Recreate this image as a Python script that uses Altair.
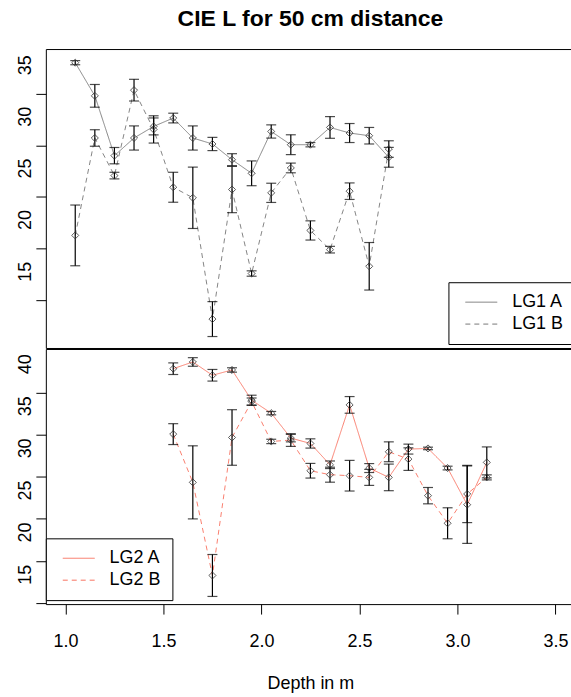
import altair as alt
import pandas as pd

FONT = "Liberation Sans"

# depth positions (m)
depth = [1.05, 1.15, 1.25, 1.35, 1.45, 1.55, 1.65, 1.75, 1.85, 1.95, 2.05,
         2.15, 2.25, 2.35, 2.45, 2.55, 2.65, 2.75, 2.85, 2.95, 3.05, 3.15]

# LG1 (top panel), depths 1.05 .. 2.65
lg1a_mean = [37.99, 34.78, 28.99, 30.70, 31.82, 32.63, 30.70, 30.12, 28.60,
             27.28, 31.33, 30.05, 30.05, 31.72, 31.18, 30.92, 28.83]
lg1a_err = [0.20, 1.10, 0.79, 1.17, 0.82, 0.47, 1.17, 0.64, 0.58,
            1.20, 0.64, 0.96, 0.21, 1.05, 0.92, 0.80, 0.96]
lg1b_mean = [21.27, 30.70, 27.06, 35.33, 31.53, 25.93, 24.91, 13.17, 25.71,
             17.58, 25.39, 27.80, 21.75, 19.89, 25.55, 18.28, 29.63]
lg1b_err = [2.94, 0.80, 0.32, 1.05, 1.32, 1.45, 2.97, 1.69, 2.24,
            0.26, 0.93, 0.47, 0.93, 0.32, 0.80, 2.30, 0.80]

# LG2 (bottom panel), depths 1.55 .. 3.15
lg2a_mean = [42.84, 43.64, 42.06, 42.69, 39.10, 37.56, 34.60, 33.96, 31.43,
             38.54, 31.04, 29.93, 33.29, 33.37, 31.04, 26.69, 31.71]
lg2a_err = [0.69, 0.51, 0.69, 0.26, 0.59, 0.20, 0.45, 0.55, 0.45,
            0.99, 0.53, 1.58, 0.59, 0.15, 0.22, 4.60, 1.84]
lg2b_mean = [35.07, 29.34, 18.28, 34.67, 38.93, 34.20, 34.36, 30.72, 30.25,
             30.13, 29.93, 32.97, 32.10, 27.76, 24.48, 27.96, 29.93]
lg2b_err = [1.24, 4.34, 2.49, 3.30, 0.43, 0.26, 0.75, 0.87, 0.89,
            1.82, 0.95, 1.18, 1.34, 0.97, 1.84, 3.40, 0.30]

x_ticks = [1.0, 1.5, 2.0, 2.5, 3.0, 3.5]
top_y_ticks = [15, 20, 25, 30, 35]
bot_y_ticks = [15, 20, 25, 30, 35, 40]


def table(xs, series_pairs):
    rows = []
    for name, means, errs in series_pairs:
        for x, m, e in zip(xs, means, errs):
            rows.append({"depth": x, "series": name, "value": m,
                         "lo": m - e, "hi": m + e})
    return pd.DataFrame(rows)


top_df = table(depth[:17], [("LG1 A", lg1a_mean, lg1a_err),
                            ("LG1 B", lg1b_mean, lg1b_err)])
bot_df = table(depth[5:], [("LG2 A", lg2a_mean, lg2a_err),
                           ("LG2 B", lg2b_mean, lg2b_err)])

X_SCALE = alt.Scale(domain=[0.9, 3.6], nice=False, zero=False)


def y_axis(values):
    return alt.Axis(values=values, title=None, domain=False, ticks=True,
                    tickSize=10, tickColor="black", tickWidth=1,
                    labelFont=FONT, labelFontSize=18, labelColor="black",
                    labelAngle=-90, labelAlign="center", labelBaseline="bottom",
                    labelPadding=1, labelOffset=-29, labelFlush=False,
                    labelOverlap=False, grid=False)


def panel(df, names, color, y_domain, y_values, height, legend_x, legend_y, x_axis):
    ysc = alt.Scale(domain=y_domain, nice=False, zero=False)
    yax = y_axis(y_values)
    x_enc = alt.X("depth:Q", scale=X_SCALE, axis=x_axis)
    base = alt.Chart(df)
    legend = alt.Legend(
        title=None, orient="none", legendX=legend_x, legendY=legend_y,
        direction="vertical", strokeColor="black", fillColor="white",
        padding=11, labelFont=FONT, labelFontSize=18, labelColor="black",
        symbolType="M-2,0H2", symbolSize=256, symbolStrokeWidth=1,
        symbolStrokeColor=color, symbolOffset=13, labelOffset=22,
        rowPadding=4, cornerRadius=0,
    )
    lines = base.mark_line(color=color, strokeWidth=0.9).encode(
        x=x_enc,
        y=alt.Y("value:Q", scale=ysc, axis=yax),
        strokeDash=alt.StrokeDash(
            "series:N",
            scale=alt.Scale(domain=names, range=[[1, 0], [5, 4]]),
            legend=legend,
        ),
    )
    bars = base.mark_rule(color="black", strokeWidth=1.2).encode(
        x=x_enc, y=alt.Y("lo:Q", scale=ysc, axis=yax), y2="hi:Q")
    cap_lo = base.mark_tick(color="black", orient="horizontal", size=10,
                            thickness=1.2).encode(
        x=x_enc, y=alt.Y("lo:Q", scale=ysc, axis=yax))
    cap_hi = base.mark_tick(color="black", orient="horizontal", size=10,
                            thickness=1.2).encode(
        x=x_enc, y=alt.Y("hi:Q", scale=ysc, axis=yax))
    pts = base.mark_point(shape="diamond", filled=False, size=50,
                          color="#333333", strokeWidth=0.8, opacity=1).encode(
        x=x_enc, y=alt.Y("value:Q", scale=ysc, axis=yax))
    return alt.layer(lines, bars, cap_lo, cap_hi, pts).properties(
        width=531, height=height)


bottom_x_axis = alt.Axis(
    values=x_ticks, format=".1f", title="Depth in m", domain=False,
    tickSize=10, tickColor="black", tickWidth=1, grid=False,
    labelFont=FONT, labelFontSize=18, labelColor="black", labelPadding=19,
    labelFlush=False, labelOverlap=False,
    titleFont=FONT, titleFontSize=18, titleFontWeight="normal",
    titleColor="black", titlePadding=24,
)

top = panel(top_df, ["LG1 A", "LG1 B"], "#777777", [10.37, 39.31],
            top_y_ticks, 300, 404, 234, None)
bottom = panel(bot_df, ["LG2 A", "LG2 B"], "#f8715f", [14.88, 45.18],
               bot_y_ticks, 256, 0, 190, bottom_x_axis)

chart = alt.vconcat(top, bottom, spacing=-3).resolve_scale(
    strokeDash="independent"
).resolve_legend(strokeDash="independent").properties(
    title=alt.TitleParams("CIE L for 50 cm distance", font=FONT, fontSize=23,
                          fontWeight="bold", color="black", anchor="middle",
                          frame="group", offset=18),
    padding={"left": 16, "top": 6, "right": -5, "bottom": 0},
    background="white",
).configure_view(stroke="black", strokeWidth=1)

chart.save("out.html", embed_options={"renderer": "svg", "actions": False})
